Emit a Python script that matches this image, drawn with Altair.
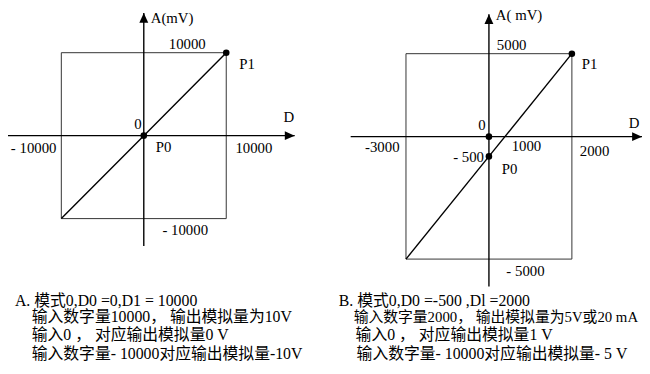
import altair as alt
import pandas as pd

# ---------------- data ----------------
# Panel A : mode 0, D0 = 0, D1 = 10000
a_line_d = [-10000, 0, 10000]
a_line_a = [-10000, 0, 10000]
a_pts_name = ["P0", "P1"]
a_pts_d = [0, 10000]
a_pts_a = [0, 10000]
a_box_d = [-10000, 10000]
a_box_a = [-10000, 10000]
a_axis_d = [-16800, 18300]
a_axis_a = [-13300, 14800]
a_labels = ["A(mV)", "10000", "P1", "D", "0", "- 10000", "P0", "10000", "- 10000"]
a_label_d = [0, 0, 10000, 18300, 0, -10000, 0, 10000, 0]
a_label_a = [14800, 10000, 10000, 0, 0, 0, 0, 0, -10000]

# Panel B : mode 0, D0 = -500, D1 = 2000
b_line_d = [-3000, 0, 2000]
b_line_a = [-5000, -500, 5000]
b_pts_name = ["O", "P0", "P1"]
b_pts_d = [0, 0, 2000]
b_pts_a = [0, -500, 5000]
b_box_d = [-3000, 2000]
b_box_a = [-5000, 5000]
b_axis_d = [-5000, 3690]
b_axis_a = [-6200, 7380]
b_labels = ["A( mV)", "5000", "P1", "0", "D", "-3000", "1000", "2000", "- 500", "P0", "- 5000"]
b_label_d = [0, 0, 2000, 0, 3690, -3000, 1000, 2000, 0, 0, 0]
b_label_a = [7380, 5000, 5000, 0, 0, 0, 0, 0, -500, -500, -5000]

cap_a = ["A. 模式0,D0 =0,D1 = 10000",
         "输入数字量10000， 输出模拟量为10V",
         "输入0 ， 对应输出模拟量0 V",
         "输入数字量- 10000对应输出模拟量-10V"]
cap_b = ["B. 模式0,D0 =-500 ,Dl =2000",
         "输入数字量2000， 输出模拟量为5V或20 mA",
         "输入0 ， 对应输出模拟量1 V",
         "输入数字量- 10000对应输出模拟量- 5 V"]

# ---------------- layout / style ----------------
FONT = "'Liberation Serif', 'Noto Sans CJK SC', serif"
LBL_SIZE = 15
cap_size_a = [16, 16, 16, 16]
cap_size_b = [16, 15, 16, 16]

# scale mapping (piecewise schematic scales)
a_xscale = dict(domain=[-10000, 10000], range=[54, 221])
a_yscale = dict(domain=[-10000, 10000], range=[211, 43])
b_xscale = dict(domain=[-3000, 0, 2000], range=[403, 487, 571])
b_yscale = dict(domain=[-5000, -500, 0, 5000], range=[252, 148, 128, 44])

# label offsets (dx, dy, align)
a_offsets = [(7, 5, "left"), (44, -9, "center"), (21, 12, "center"), (-6, -19, "center"),
             (-6, -12, "center"), (-28, 13, "center"), (20, 12, "center"),
             (28, 13, "center"), (42, 12, "center")]
b_offsets = [(7, 1, "left"), (23, -9, "center"), (18, 11, "center"), (-7, -12, "center"),
             (-8, -14, "center"), (-24, 11, "center"), (-4, 10, "center"),
             (23, 15, "center"), (-5, 1, "right"), (21, 13, "center"), (37, 12, "center")]

ARROW_R = "M0,0L-1,-0.45L-1,0.45Z"
ARROW_U = "M0,0L-0.45,1L0.45,1Z"


def panel(xs, ys, line_d, line_a, pts_d, pts_a, box_d, box_a, axis_d, axis_a,
          labels, label_d, label_a, offsets):
    X = alt.Scale(domain=xs["domain"], range=xs["range"], nice=False, zero=False)
    Y = alt.Scale(domain=ys["domain"], range=ys["range"], nice=False, zero=False)

    def xe(f="d"):
        return alt.X(f"{f}:Q", scale=X, axis=None)

    def ye(f="a"):
        return alt.Y(f"{f}:Q", scale=Y, axis=None)

    layers = []
    box = pd.DataFrame({"d": [box_d[0]], "d2": [box_d[1]], "a": [box_a[0]], "a2": [box_a[1]]})
    layers.append(alt.Chart(box).mark_rect(fill=None, stroke="#333", strokeWidth=1).encode(
        x=xe(), x2="d2:Q", y=ye(), y2="a2:Q"))

    hax = pd.DataFrame({"d": [axis_d[0]], "d2": [axis_d[1]], "a": [0]})
    layers.append(alt.Chart(hax).mark_rule(color="black", strokeWidth=1.4).encode(
        x=xe(), x2="d2:Q", y=ye()))
    vax = pd.DataFrame({"d": [0], "a": [axis_a[0]], "a2": [axis_a[1]]})
    layers.append(alt.Chart(vax).mark_rule(color="black", strokeWidth=1.4).encode(
        x=xe(), y=ye(), y2="a2:Q"))

    ar = pd.DataFrame({"d": [axis_d[1]], "a": [0]})
    layers.append(alt.Chart(ar).mark_point(shape=ARROW_R, filled=True, size=400,
                                           color="black", opacity=1).encode(x=xe(), y=ye()))
    au = pd.DataFrame({"d": [0], "a": [axis_a[1]]})
    layers.append(alt.Chart(au).mark_point(shape=ARROW_U, filled=True, size=400,
                                           color="black", opacity=1).encode(x=xe(), y=ye()))

    ln = pd.DataFrame({"d": line_d, "a": line_a})
    layers.append(alt.Chart(ln).mark_line(color="black", strokeWidth=1.4).encode(
        x=xe(), y=ye(), order="d:Q"))

    pts = pd.DataFrame({"d": pts_d, "a": pts_a})
    layers.append(alt.Chart(pts).mark_circle(color="black", size=44, opacity=1).encode(
        x=xe(), y=ye()))

    for t, d, a, (dx, dy, al) in zip(labels, label_d, label_a, offsets):
        df = pd.DataFrame({"d": [d], "a": [a], "t": [t]})
        layers.append(alt.Chart(df).mark_text(
            font=FONT, fontSize=LBL_SIZE, color="black", dx=dx, dy=dy,
            align=al, baseline="middle").encode(x=xe(), y=ye(), text="t:N"))
    return alt.layer(*layers)


pa = panel(a_xscale, a_yscale, a_line_d, a_line_a, a_pts_d, a_pts_a, a_box_d, a_box_a,
           a_axis_d, a_axis_a, a_labels, a_label_d, a_label_a, a_offsets)
pb = panel(b_xscale, b_yscale, b_line_d, b_line_a, b_pts_d, b_pts_a, b_box_d, b_box_a,
           b_axis_d, b_axis_a, b_labels, b_label_d, b_label_a, b_offsets)

# captions
cap_layers = []
cap_pos_a = [(7, 294), (24, 311), (24, 329), (24, 348)]
cap_pos_b = [(335, 294), (350, 311), (352, 329), (353, 348)]
for lines, pos, sizes in ((cap_a, cap_pos_a, cap_size_a), (cap_b, cap_pos_b, cap_size_b)):
    for line, (px, py), fs in zip(lines, pos, sizes):
        cap_layers.append(alt.Chart(alt.Data(values=[{"t": line}])).mark_text(
            font=FONT, fontSize=fs, color="black", align="left", baseline="middle"
        ).encode(x=alt.value(px), y=alt.value(py), text="t:N"))

chart = alt.layer(pa, pb, *cap_layers).resolve_scale(
    x="independent", y="independent"
).properties(
    width=642, height=358, padding=0, autosize=alt.AutoSizeParams(type="none"),
    background="white"
).configure_view(stroke=None)

chart.save("out.html", embed_options={"renderer": "svg", "actions": False})
